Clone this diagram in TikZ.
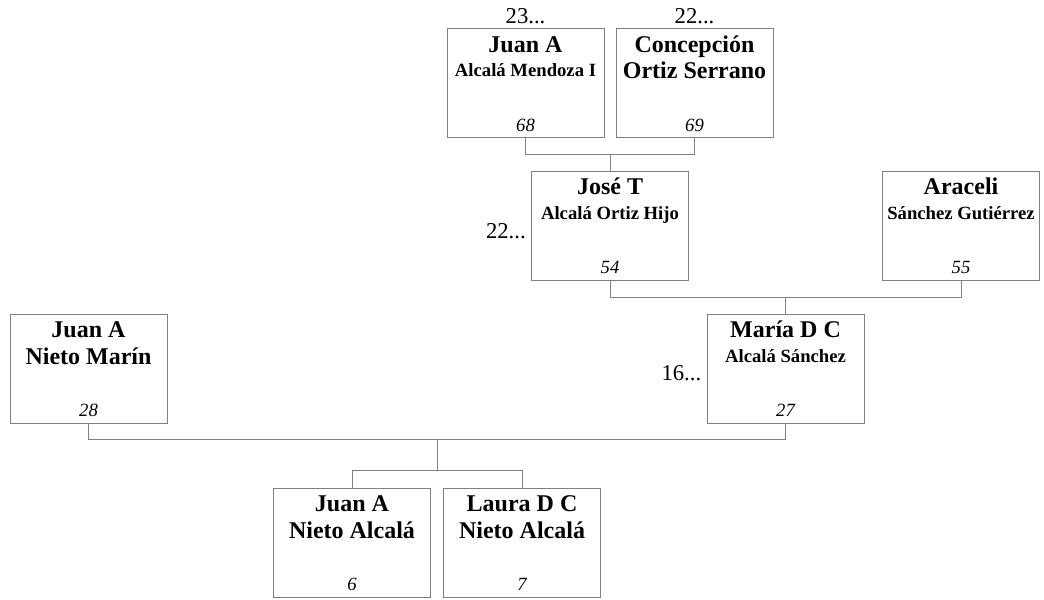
\documentclass[tikz,border=0pt]{standalone}
\usepackage{fontspec}
\setmainfont{Liberation Serif}
\usetikzlibrary{calc}
\definecolor{linegray}{RGB}{128,128,128}
\tikzset{
  person/.style={draw=linegray, line width=0.75pt, minimum width=117.75pt, minimum height=81.75pt, inner sep=0pt},
  bigname/.style={font=\fontsize{18}{18}\selectfont\bfseries, anchor=base, inner sep=0pt},
  smallname/.style={font=\fontsize{14}{14}\selectfont\bfseries, anchor=base, inner sep=0pt},
  number/.style={font=\fontsize{14}{14}\selectfont\itshape, anchor=base, inner sep=0pt},
  gen/.style={font=\fontsize{17}{17}\selectfont, inner sep=0pt},
  link/.style={draw=linegray, line width=0.75pt}
}
\begin{document}
\begin{tikzpicture}[x=0.75pt,y=-0.75pt]
        \useasboundingbox (0,0) rectangle (1044,599);
        % boxes
        \node[person] (p68) at (525.5,83.5) {};
        \node[person] (p69) at (694.5,83.5) {};
        \node[person] (p54) at (610,225.5) {};
        \node[person] (p55) at (961,225.5) {};
        \node[person] (p27) at (785.5,368.5) {};
        \node[person] (p28) at (88.5,368.5) {};
        \node[person] (p6) at (352,542.5) {};
        \node[person] (p7) at (522,542.5) {};
        % names
        \node[bigname] (f68) at ($(p68.north)+(0,24)$) {Juan A};
        \node[smallname] (s68) at ($(p68.north)+(0,48.5)$) {Alcalá Mendoza I};
        \node[bigname] (f69) at ($(p69.north)+(0,24)$) {Concepción};
        \node[bigname] (s69) at ($(p69.north)+(0,50.5)$) {Ortiz Serrano};
        \node[bigname] (f54) at ($(p54.north)+(0,24)$) {José T};
        \node[smallname] (s54) at ($(p54.north)+(0,48.5)$) {Alcalá Ortiz Hijo};
        \node[bigname] (f55) at ($(p55.north)+(0,24)$) {Araceli};
        \node[smallname] (s55) at ($(p55.north)+(0,48.5)$) {Sánchez Gutiérrez};
        \node[bigname] (f27) at ($(p27.north)+(0,24)$) {María D C};
        \node[smallname] (s27) at ($(p27.north)+(0,48.5)$) {Alcalá Sánchez};
        \node[bigname] (f28) at ($(p28.north)+(0,24)$) {Juan A};
        \node[bigname] (s28) at ($(p28.north)+(0,50.5)$) {Nieto Marín};
        \node[bigname] (f6) at ($(p6.north)+(0,24)$) {Juan A};
        \node[bigname] (s6) at ($(p6.north)+(0,50.5)$) {Nieto Alcalá};
        \node[bigname] (f7) at ($(p7.north)+(0,24)$) {Laura D C};
        \node[bigname] (s7) at ($(p7.north)+(0,50.5)$) {Nieto Alcalá};
        % numbers
        \node[number] (i68) at ($(p68.south)+(0,-7)$) {68};
        \node[number] (i69) at ($(p69.south)+(0,-7)$) {69};
        \node[number] (i54) at ($(p54.south)+(0,-7)$) {54};
        \node[number] (i55) at ($(p55.south)+(0,-7)$) {55};
        \node[number] (i27) at ($(p27.south)+(0,-7)$) {27};
        \node[number] (i28) at ($(p28.south)+(0,-7)$) {28};
        \node[number] (i6) at ($(p6.south)+(0,-7)$) {6};
        \node[number] (i7) at ($(p7.south)+(0,-7)$) {7};
        % generations
        \node[gen, anchor=base] (g68) at ($(p68.north)+(0,-5)$) {23...};
        \node[gen, anchor=base] (g69) at ($(p69.north)+(0,-5)$) {22...};
        \node[gen, anchor=base east] (g54) at ($(p54.west)+(-5,12.5)$) {22...};
        \node[gen, anchor=base east] (g27) at ($(p27.west)+(-5,11.5)$) {16...};
        % links
        \draw[link] (p68.south) -- ++(0,16) coordinate (b1) -| (p69.south);
        \draw[link] (p54.north) -- (p54.north |- b1);
        \draw[link] (p54.south) -- ++(0,17) coordinate (b2) -| (p55.south);
        \draw[link] (p27.north) -- (p27.north |- b2);
        \draw[link] (p28.south) -- ++(0,16) coordinate (b3) -| (p27.south);
        \draw[link] (p6.north) -- ++(0,-17) coordinate (b4) -| (p7.north);
        \coordinate (kids) at ($(p6.north)!0.5!(p7.north)$);
        \draw[link] (kids |- b3) -- (kids |- b4);
      \end{tikzpicture}
\end{document}
